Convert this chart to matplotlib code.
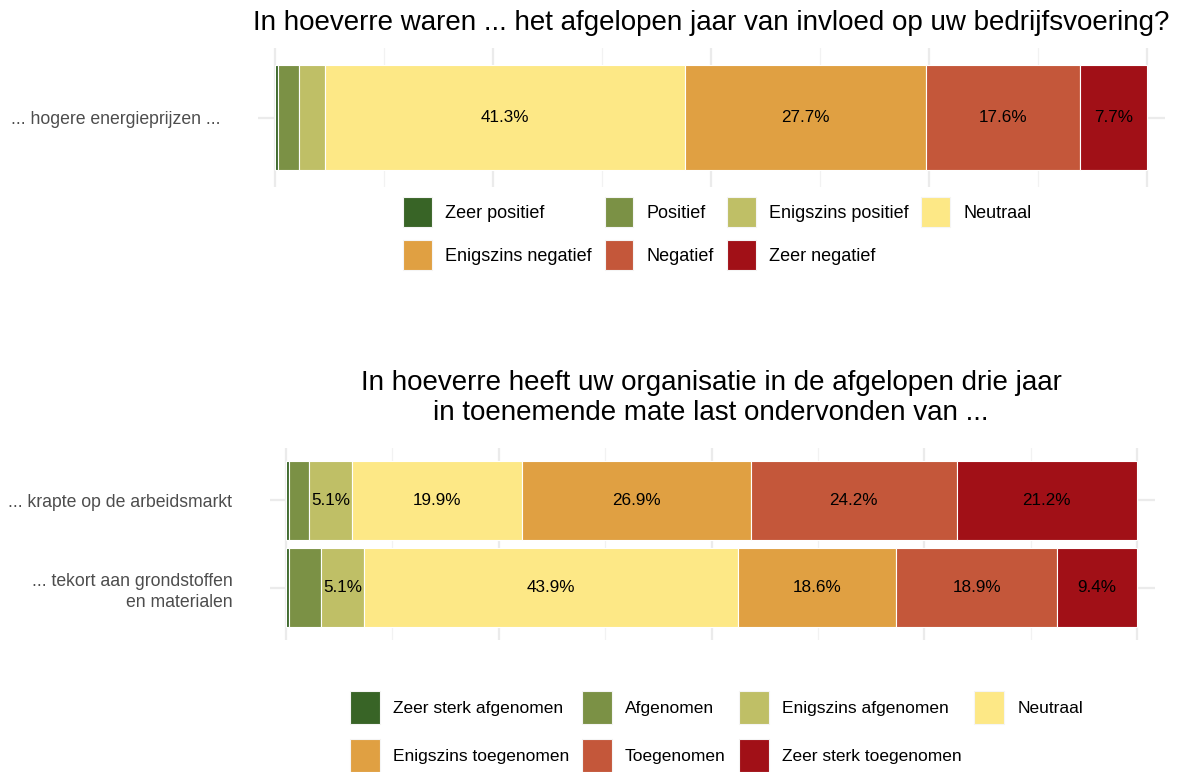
import matplotlib
matplotlib.use("Agg")
import matplotlib.pyplot as plt
from matplotlib.patches import Patch
import numpy as np

W, H = 1189, 772

# ---------------- data ----------------
top_title = "In hoeverre waren ... het afgelopen jaar van invloed op uw bedrijfsvoering?"
top_levels = ["Zeer positief", "Positief", "Enigszins positief", "Neutraal",
              "Enigszins negatief", "Negatief", "Zeer negatief"]
top_categories = ["... hogere energieprijzen ..."]
top_energie = [0.3, 2.5, 2.9, 41.3, 27.7, 17.6, 7.7]

bottom_title = ("In hoeverre heeft uw organisatie in de afgelopen drie jaar\n"
                "in toenemende mate last ondervonden van ...")
bottom_levels = ["Zeer sterk afgenomen", "Afgenomen", "Enigszins afgenomen", "Neutraal",
                 "Enigszins toegenomen", "Toegenomen", "Zeer sterk toegenomen"]
bottom_categories = ["... krapte op de arbeidsmarkt", "... tekort aan grondstoffen\nen materialen"]
bottom_krapte = [0.4, 2.3, 5.1, 19.9, 26.9, 24.2, 21.2]
bottom_tekort = [0.3, 3.8, 5.1, 43.9, 18.6, 18.9, 9.4]

colors = ["#386426", "#7B9145", "#BFBF66", "#FDE886", "#E0A042", "#C4573A", "#A11017"]

plt.rcParams["font.family"] = ["Liberation Sans", "DejaVu Sans"]

fig = plt.figure(figsize=(W / 100, H / 100), dpi=100)


def px_axes(l, t, r, b):
    return fig.add_axes([l / W, 1 - b / H, (r - l) / W, (b - t) / H])


def draw_panel(ax, categories, rows, levels, x0_px, x1_px, l_px, r_px):
    n = len(categories)
    ypos = np.arange(n)[::-1] + 1  # first category on top
    for j, lev in enumerate(levels):
        vals = np.array([row[j] for row in rows]) / 100.0
        lefts = np.array([sum(row[:j]) for row in rows]) / 100.0
        ax.barh(ypos, vals, left=lefts, height=0.9, color=colors[j],
                edgecolor="white", linewidth=0.8, label=lev, zorder=3)
        for y, v, lft in zip(ypos, vals, lefts):
            if v * 100 >= 5:
                ax.text(lft + v / 2, y, f"{v * 100:.1f}%", ha="center", va="center",
                        fontsize=12.3, color="black", zorder=4)
    span = x1_px - x0_px
    ax.set_xlim(-(x0_px - l_px) / span, 1 + (r_px - x1_px) / span)
    ax.set_ylim(0.4, n + 0.6)
    ax.set_yticks(ypos)
    ax.set_yticklabels(categories, fontsize=12.7, color="#4D4D4D", linespacing=1.35)
    ax.set_xticks(np.arange(0, 1.01, 0.25))
    ax.set_xticks(np.arange(0.125, 1.0, 0.25), minor=True)
    ax.tick_params(axis="both", which="both", length=0, labelbottom=False)
    ax.tick_params(axis="y", pad=27)
    ax.grid(True, which="major", axis="both", color="#EBEBEB", linewidth=1.6, zorder=0)
    ax.grid(True, which="minor", axis="x", color="#F2F2F2", linewidth=0.9, zorder=0)
    for s in ax.spines.values():
        s.set_visible(False)
    ax.set_facecolor("white")


def row_major(items, ncol=4):
    # matplotlib fills legend columns first; reorder so that rows read left to right
    nrow = int(np.ceil(len(items) / ncol))
    out = []
    for c in range(ncol):
        for r in range(nrow):
            k = r * ncol + c
            if k < len(items):
                out.append(items[k])
    return out


leg_handles = [Patch(facecolor=c, edgecolor="#F5F5F5", linewidth=0.8) for c in colors]

# ---------------- top panel ----------------
ax1 = px_axes(258, 48, 1165, 187)
draw_panel(ax1, top_categories, [top_energie], top_levels, 275, 1147, 258, 1165)
fig.text(711 / W, 1 - 23 / H, top_title, ha="center", va="center", fontsize=20)

fig.legend(row_major(leg_handles), row_major(top_levels), ncol=4, loc="upper left",
           bbox_to_anchor=(403 / W, 1 - 197 / H), frameon=False, fontsize=13,
           handlelength=1.6, handleheight=2.19, handletextpad=0.72,
           columnspacing=0.72, labelspacing=0.72, borderpad=0, borderaxespad=0)

# ---------------- bottom panel ----------------
ax2 = px_axes(270, 448, 1155, 640)
draw_panel(ax2, bottom_categories, [bottom_krapte, bottom_tekort], bottom_levels,
           286, 1137, 270, 1155)
fig.text(711 / W, 1 - 398 / H, bottom_title, ha="center", va="center", fontsize=20,
         linespacing=1.2)

fig.legend(row_major(leg_handles), row_major(bottom_levels), ncol=4, loc="upper left",
           bbox_to_anchor=(350 / W, 1 - 691 / H), frameon=False, fontsize=12.5,
           handlelength=1.72, handleheight=2.54, handletextpad=0.75,
           columnspacing=0.75, labelspacing=0.86, borderpad=0, borderaxespad=0)

fig.savefig("out.png", dpi=100, facecolor="white")
